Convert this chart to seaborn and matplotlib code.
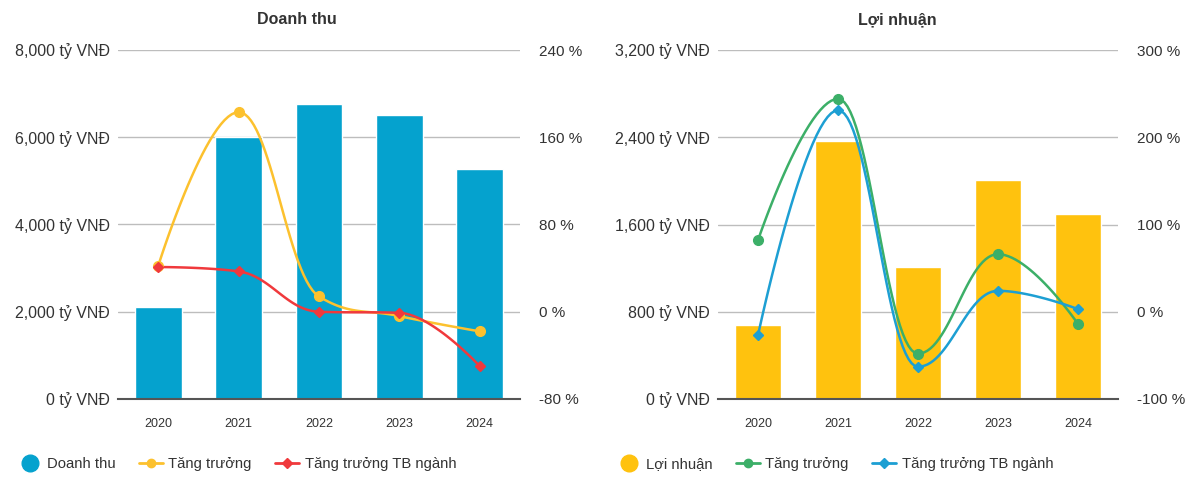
import numpy as np
import pandas as pd
import matplotlib
matplotlib.use('Agg')
import matplotlib.pyplot as plt
from matplotlib.lines import Line2D
import seaborn as sns

years = ['2020', '2021', '2022', '2023', '2024']

# Doanh thu (ty VND) and growth (%)
revenue = [2100, 6000, 6770, 6520, 5280]
rev_growth = [42, 183, 14, -4, -18]
rev_growth_ind = [41, 37, 0, -1, -50]

# Loi nhuan (ty VND) and growth (%)
profit = [680, 2370, 1210, 2010, 1700]
prof_growth = [82, 244, -48, 66, -14]
prof_growth_ind = [-27, 231, -63, 24, 3]

sns.set_theme(style='white')
plt.rcParams['font.family'] = ['Liberation Sans', 'DejaVu Sans']


def spline(xv, yv, smoothing=1.5, steps=30):
    # Highcharts-like spline through points
    n = len(xv)
    denom = smoothing + 1
    rc = [None] * n
    lc = [None] * n
    for i in range(1, n - 1):
        px, py = xv[i], yv[i]
        lx, ly = xv[i - 1], yv[i - 1]
        nx, ny = xv[i + 1], yv[i + 1]
        lcx = (smoothing * px + lx) / denom
        lcy = (smoothing * py + ly) / denom
        rcx = (smoothing * px + nx) / denom
        rcy = (smoothing * py + ny) / denom
        corr = (rcy - lcy) * (rcx - px) / (rcx - lcx) + py - rcy
        lcy += corr
        rcy += corr
        if lcy > ly and lcy > py:
            lcy = max(ly, py); rcy = 2 * py - lcy
        elif lcy < ly and lcy < py:
            lcy = min(ly, py); rcy = 2 * py - lcy
        if rcy > ny and rcy > py:
            rcy = max(ny, py); lcy = 2 * py - rcy
        elif rcy < ny and rcy < py:
            rcy = min(ny, py); lcy = 2 * py - rcy
        lc[i] = (lcx, lcy)
        rc[i] = (rcx, rcy)
    t = np.linspace(0, 1, steps)
    outx, outy = [], []
    for i in range(1, n):
        p0 = (xv[i - 1], yv[i - 1])
        p1 = rc[i - 1] if rc[i - 1] else p0
        p3 = (xv[i], yv[i])
        p2 = lc[i] if lc[i] else p3
        bx = (1 - t) ** 3 * p0[0] + 3 * (1 - t) ** 2 * t * p1[0] + 3 * (1 - t) * t ** 2 * p2[0] + t ** 3 * p3[0]
        by = (1 - t) ** 3 * p0[1] + 3 * (1 - t) ** 2 * t * p1[1] + 3 * (1 - t) * t ** 2 * p2[1] + t ** 3 * p3[1]
        outx.extend(bx)
        outy.extend(by)
    return outx, outy


fig = plt.figure(figsize=(11.97, 4.95), dpi=100)

panels = [
    dict(title='Doanh thu', bars=revenue, g1=rev_growth, g2=rev_growth_ind,
         bar_c='#05A2CE', c1='#FCC12E', c2='#F0393C',
         ymax=8000, ystep=2000, rlim=(-80, 240), rstep=80,
         rect=[118 / 1197, 96 / 495, 402 / 1197, 349 / 495], tx=297 / 1197,
         lx=4 / 1197),
    dict(title='Lợi nhuận', bars=profit, g1=prof_growth, g2=prof_growth_ind,
         bar_c='#FFC20E', c1='#3CAF68', c2='#1D9FD3',
         ymax=3200, ystep=800, rlim=(-100, 300), rstep=100,
         rect=[718 / 1197, 96 / 495, 400 / 1197, 349 / 495], tx=897 / 1197,
         lx=603 / 1197),
]

for p in panels:
    ax = fig.add_axes(p['rect'])
    df = pd.DataFrame({'year': years, 'value': p['bars']})
    sns.barplot(data=df, x='year', y='value', color=p['bar_c'], saturation=1,
                width=0.58, ax=ax, zorder=2)
    ax.set_ylim(0, p['ymax'])
    ax.set_xlim(-0.5, 4.5)
    yt = np.arange(0, p['ymax'] + 1, p['ystep'])
    ax.set_yticks(yt)
    ax.set_yticklabels(['{:,} tỷ VNĐ'.format(int(v)) for v in yt], fontsize=11.5, color='#333333')
    ax.set_xlabel('')
    ax.set_ylabel('')
    ax.tick_params(axis='x', labelsize=9, colors='#333333', length=0, pad=14)
    ax.tick_params(axis='y', length=0, pad=6)
    ax.grid(axis='y', color='#BDBDBD', lw=1, zorder=0)
    ax.set_axisbelow(True)
    for s in ['top', 'right', 'left']:
        ax.spines[s].set_visible(False)
    ax.spines['bottom'].set_color('#555555')
    ax.spines['bottom'].set_linewidth(1.5)
    ax.spines['bottom'].set_zorder(5)

    ax2 = ax.twinx()
    ax2.set_ylim(*p['rlim'])
    rt = np.arange(p['rlim'][0], p['rlim'][1] + 1, p['rstep'])
    ax2.set_yticks(rt)
    ax2.set_yticklabels(['{} %'.format(int(v)) for v in rt], fontsize=11, color='#333333')
    ax2.tick_params(axis='y', length=0, pad=14)
    for s in ax2.spines.values():
        s.set_visible(False)
    ax2.grid(False)

    xi = list(range(len(years)))
    sx, sy = spline(xi, p['g1'])
    ax2.plot(sx, sy, color=p['c1'], lw=1.8, zorder=3)
    ax2.plot(xi, p['g1'], 'o', color=p['c1'], ms=7, zorder=4)
    sx, sy = spline(xi, p['g2'])
    ax2.plot(sx, sy, color=p['c2'], lw=1.8, zorder=3)
    ax2.plot(xi, p['g2'], 'D', color=p['c2'], ms=5.5, zorder=4)

    fig.text(p['tx'], 1 - 20 / 495, p['title'], ha='center', va='center',
             fontsize=11.5, fontweight='bold', color='#333333')

    handles = [
        Line2D([], [], ls='', marker='o', ms=12, color=p['bar_c']),
        Line2D([], [], color=p['c1'], lw=2, marker='o', ms=6),
        Line2D([], [], color=p['c2'], lw=2, marker='D', ms=5),
    ]
    labels = [p['title'], 'Tăng trưởng', 'Tăng trưởng TB ngành']
    fig.legend(handles, labels, loc='center left', bbox_to_anchor=(p['lx'], 1 - 464 / 495),
               ncol=3, frameon=False, fontsize=10.7, handlelength=1.65,
               handletextpad=0.35, columnspacing=1.55, labelcolor='#333333')

fig.savefig('out.png', dpi=100)
